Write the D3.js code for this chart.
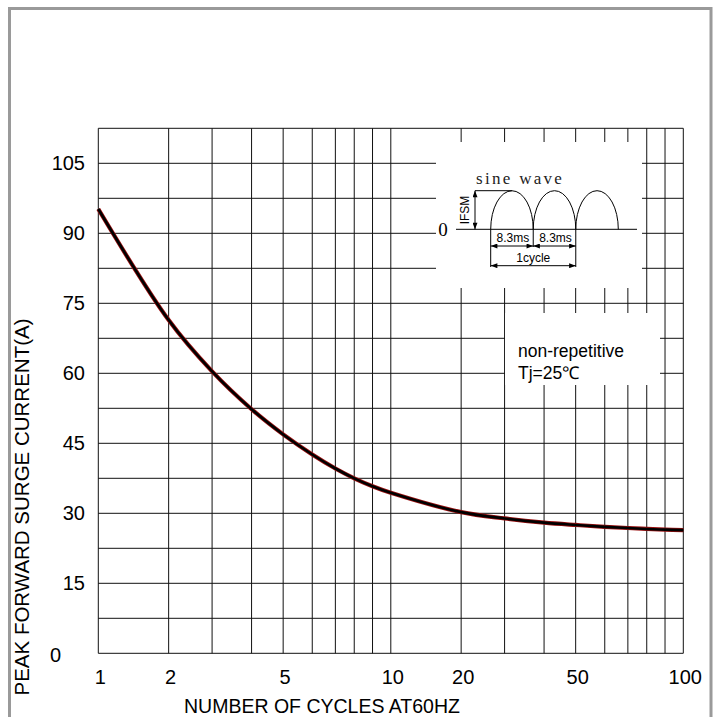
<!DOCTYPE html>
<html>
<head>
<meta charset="utf-8">
<script src="https://cdn.jsdelivr.net/npm/d3@7"></script>
<style>
  html, body { margin: 0; padding: 0; background: #fff; }
  svg { display: block; font-family: Arial, "Liberation Sans", sans-serif; }
</style>
</head>
<body>
<svg id="chart" width="714" height="717"></svg>
<script>
// 1 Data
const cycles = [1, 2, 3, 4, 5, 6, 7, 8, 9, 10, 20, 30, 40, 50, 60, 70, 80, 90, 100];
const surgeCurrent = [95.2, 71.4, 60.4, 52.3, 46.9, 42.6, 39.6, 37.5, 35.8, 34.4, 30.25, 28.9, 28.0, 27.5, 27.1, 26.85, 26.65, 26.5, 26.4];
const xTickLabels = [1, 2, 5, 10, 20, 50, 100];
const yTickLabels = [0, 15, 30, 45, 60, 75, 90, 105];
const yGridValues = [0, 7.5, 15, 22.5, 30, 37.5, 45, 52.5, 60, 67.5, 75, 82.5, 90, 97.5, 105, 112.5];
const legendLines = ['non-repetitive', 'Tj=25\u2103'];
const halfCycles = [0, 1, 2];
const halfCycleLabel = '8.3ms';

// 2 Settings
const plotLeft = 98.3, plotRight = 683.3, plotTop = 128.3, plotBottom = 653.3;
// the printed grid is not a true log grid, spacing of 1..10 inside one decade
const decadeFrac = [0, 0.2405, 0.389, 0.524, 0.632, 0.7315, 0.8105, 0.875, 0.9375, 1];
const decadeWidth = (plotRight - plotLeft) / 2;

const svg = d3.select('#chart');

// 3 Scales
const xScale = d3.scaleLinear()
  .domain(cycles)
  .range(cycles.map((c) => {
    const d = Math.floor(Math.log10(c) + 1e-9);
    const k = Math.round(c / Math.pow(10, d));
    return plotLeft + (d + decadeFrac[k - 1]) * decadeWidth;
  }));

const yScale = d3.scaleLinear().domain([0, 112.5]).range([plotBottom, plotTop]);

// outer grey frame
svg.append('rect')
  .attr('x', 9.5).attr('y', 8.5)
  .attr('width', 701.5).attr('height', 720)
  .attr('fill', 'none').attr('stroke', '#9a9a9a').attr('stroke-width', 3);

// 4 Grid
const grid = svg.append('g').attr('stroke', '#111').attr('stroke-width', 1);
grid.selectAll('.h').data(yGridValues).join('line')
  .attr('x1', plotLeft).attr('x2', plotRight)
  .attr('y1', (d) => yScale(d)).attr('y2', (d) => yScale(d));
grid.selectAll('.v').data(cycles).join('line')
  .attr('x1', (d) => xScale(d)).attr('x2', (d) => xScale(d))
  .attr('y1', plotTop).attr('y2', plotBottom);

// white boxes for the inset and the note
svg.append('rect').attr('x', 436).attr('y', 142).attr('width', 206).attr('height', 146).attr('fill', '#fff');
svg.append('rect').attr('x', 505).attr('y', 313).attr('width', 155).attr('height', 72).attr('fill', '#fff');

// 5 Curve
const line = d3.line()
  .x((d, i) => xScale(cycles[i]))
  .y((d) => yScale(d))
  .curve(d3.curveCatmullRom.alpha(0.5));

svg.append('path')
  .attr('d', line(surgeCurrent))
  .attr('fill', 'none').attr('stroke', '#9a1010').attr('stroke-width', 4.2);
svg.append('path')
  .attr('d', line(surgeCurrent))
  .attr('fill', 'none').attr('stroke', '#000').attr('stroke-width', 2.6);

// 6 Tick labels
svg.append('g').selectAll('text').data(yTickLabels).join('text')
  .attr('x', (d) => d === 0 ? 61 : 85)
  .attr('y', (d) => yScale(d) + (d === 0 ? 9 : 7))
  .attr('text-anchor', 'end')
  .attr('font-size', 20)
  .text((d) => d);

svg.append('g').selectAll('text').data(xTickLabels).join('text')
  .attr('x', (d) => xScale(d) + 2)
  .attr('y', 684)
  .attr('text-anchor', 'middle')
  .attr('font-size', 20)
  .text((d) => d);

// axis titles
svg.append('text')
  .attr('x', 322).attr('y', 713)
  .attr('text-anchor', 'middle').attr('font-size', 19.5)
  .text('NUMBER OF CYCLES AT60HZ');

svg.append('text')
  .attr('transform', 'translate(29,507) rotate(-90)')
  .attr('text-anchor', 'middle').attr('font-size', 20.5)
  .text('PEAK FORWARD SURGE CURRENT(A)');

// 7 Note
svg.append('g').selectAll('text').data(legendLines).join('text')
  .attr('x', 518)
  .attr('y', (d, i) => 357 + i * 22)
  .attr('font-size', 17.5)
  .text((d) => d);

// 8 Inset: sine wave sketch
const defs = svg.append('defs');
defs.append('marker')
  .attr('id', 'arr')
  .attr('viewBox', '0 0 8 6')
  .attr('refX', 8).attr('refY', 3)
  .attr('markerWidth', 7).attr('markerHeight', 5)
  .attr('markerUnits', 'userSpaceOnUse')
  .attr('orient', 'auto-start-reverse')
  .append('path').attr('d', 'M0,0L8,3L0,6Z').attr('fill', '#000');

const ix = d3.scaleLinear().domain([0, 3]).range([490.7, 618.3]);
const iy = d3.scaleLinear().domain([0, 1]).range([229.3, 190.7]);
const inset = svg.append('g').attr('stroke', '#000').attr('fill', 'none').attr('stroke-width', 1);

inset.append('line').attr('x1', 456).attr('x2', 637).attr('y1', iy(0)).attr('y2', iy(0));

inset.selectAll('.hump').data(halfCycles).join('path')
  .attr('d', (d) => {
    const rx = (ix(d + 1) - ix(d)) / 2;
    const ry = iy(0) - iy(1);
    return `M${ix(d)},${iy(0)}A${rx},${ry} 0 0 1 ${ix(d + 1)},${iy(0)}`;
  });

// IFSM marker
inset.append('line').attr('x1', 475).attr('x2', ix(0.5)).attr('y1', iy(1)).attr('y2', iy(1));
inset.append('line').attr('x1', 475).attr('x2', 475).attr('y1', iy(0)).attr('y2', iy(1))
  .attr('marker-start', 'url(#arr)').attr('marker-end', 'url(#arr)');

// extension lines
inset.append('line').attr('x1', ix(0)).attr('x2', ix(0)).attr('y1', iy(0)).attr('y2', 267);
inset.append('line').attr('x1', ix(1)).attr('x2', ix(1)).attr('y1', iy(0)).attr('y2', 247);
inset.append('line').attr('x1', ix(2)).attr('x2', ix(2)).attr('y1', iy(0)).attr('y2', 267);

// dimension lines
inset.selectAll('.dim').data([0, 1]).join('line')
  .attr('x1', (d) => ix(d)).attr('x2', (d) => ix(d + 1))
  .attr('y1', 246).attr('y2', 246)
  .attr('marker-start', 'url(#arr)').attr('marker-end', 'url(#arr)');
inset.append('line').attr('x1', ix(0)).attr('x2', ix(2)).attr('y1', 265.7).attr('y2', 265.7)
  .attr('marker-start', 'url(#arr)').attr('marker-end', 'url(#arr)');

const insetText = svg.append('g').attr('fill', '#000');
insetText.selectAll('.ms').data([0, 1]).join('text')
  .attr('x', (d) => (ix(d) + ix(d + 1)) / 2 + 1)
  .attr('y', 242)
  .attr('text-anchor', 'middle').attr('font-size', 12)
  .text(halfCycleLabel);
insetText.append('text')
  .attr('x', ix(1)).attr('y', 261.5)
  .attr('text-anchor', 'middle').attr('font-size', 12)
  .text('1cycle');
insetText.append('text')
  .attr('transform', `translate(469,${(iy(0) + iy(1)) / 2}) rotate(-90)`)
  .attr('text-anchor', 'middle').attr('font-size', 12)
  .text('IFSM');
insetText.append('text')
  .attr('x', 476).attr('y', 184)
  .attr('font-family', '"Liberation Serif", "DejaVu Serif", serif')
  .attr('font-size', 17).attr('letter-spacing', 2.3).attr('fill', '#222')
  .text('sine wave');
insetText.append('text')
  .attr('x', 443).attr('y', 236)
  .attr('text-anchor', 'middle')
  .attr('font-family', '"Liberation Serif", "DejaVu Serif", serif')
  .attr('font-size', 19)
  .text('0');
</script>
</body>
</html>
